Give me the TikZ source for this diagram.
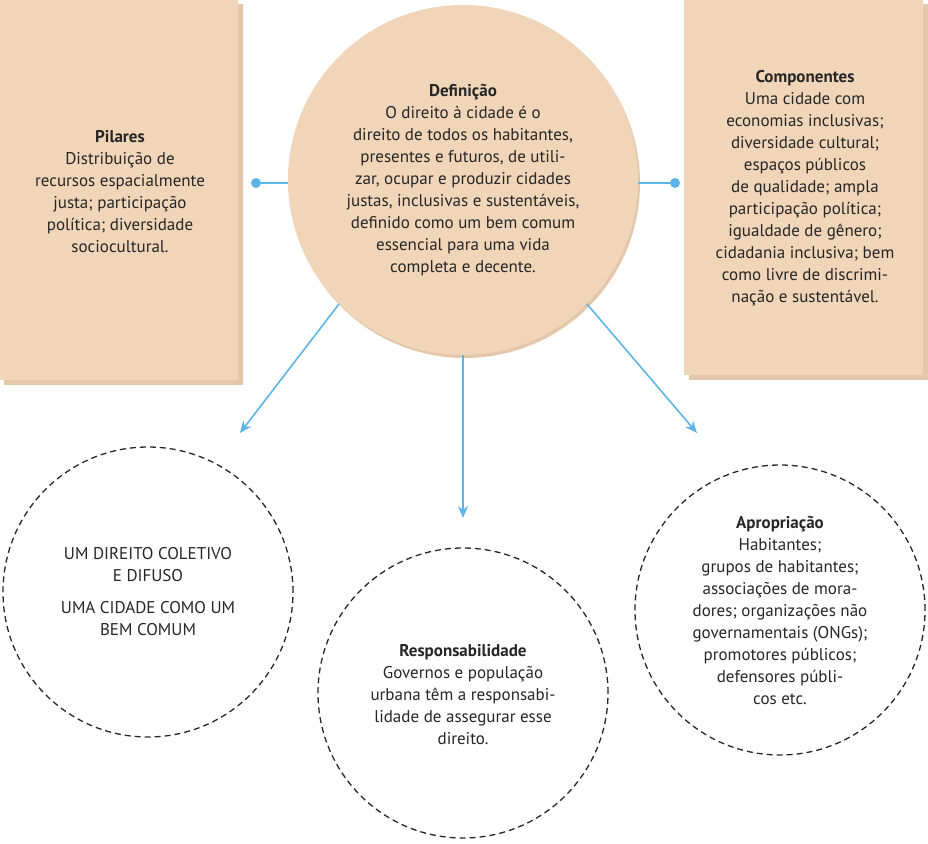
\documentclass[tikz,border=0pt]{standalone}
\usepackage{fontspec}
\usetikzlibrary{arrows.meta}
\setmainfont{PT Sans}
\begin{document}
\begin{tikzpicture}[x=1pt,y=-1pt,
  txt/.style={align=center,font=\fontsize{17}{22}\selectfont,text=black!85},
  blu/.style={draw=blue0,line width=1.6pt},
  arr/.style={blu,-{Stealth[length=12pt,width=10pt]}},
  dcirc/.style={circle,draw=black!85,dash pattern=on 6pt off 4pt,line width=1.3pt,minimum size=290pt,inner sep=0pt}]
\definecolor{tan0}{HTML}{F0D5B9}
\definecolor{tansh}{HTML}{E2C7AB}
\definecolor{blue0}{HTML}{5DB4E6}
\useasboundingbox (0,0) rectangle (928,843);
% boxes
\fill[tansh] (4,4) rectangle (243,385);
\fill[tan0] (0,0) rectangle (238,380);
\fill[tansh] (689,4) rectangle (928,380);
\fill[tan0] (684,0) rectangle (923,375);
\node[txt] (pil) at (120,192) {\textbf{Pilares}\\Distribuição de\\recursos espacialmente\\justa; participação\\política; diversidade\\sociocultural.};
\node[txt] (comp) at (805,188) {\textbf{Componentes}\\Uma cidade com\\economias inclusivas;\\diversidade cultural;\\espaços públicos\\de qualidade; ampla\\participação política;\\igualdade de gênero;\\cidadania inclusiva; bem\\como livre de discrimi-\\nação e sustentável.};
% center circle
\fill[tansh] (465,183) circle (175);
\node[circle,fill=tan0,minimum size=350pt,inner sep=0pt] (def) at (463,180) {};
\node[txt] (deft) at (463,180) {\textbf{Definição}\\O direito à cidade é o\\direito de todos os habitantes,\\presentes e futuros, de utili-\\zar, ocupar e produzir cidades\\justas, inclusivas e sustentáveis,\\definido como um bem comum\\essencial para uma vida\\completa e decente.};
% connectors
\coordinate (ld) at (256,183);
\coordinate (rd) at (675,183);
\draw[blu] (ld) -- (def.west |- ld);
\fill[blue0] (ld) circle (5);
\draw[blu] (def.east |- rd) -- (rd);
\fill[blue0] (rd) circle (5);
% dashed circles
\node[dcirc] (c1) at (148,592) {};
\node[dcirc] (c2) at (463,693) {};
\node[dcirc] (c3) at (780,610) {};
\node[txt] at (148,592) {UM DIREITO COLETIVO\\E DIFUSO\\[10pt]UMA CIDADE COMO UM\\BEM COMUM};
\node[txt] at (463,695) {\textbf{Responsabilidade}\\Governos e população\\urbana têm a responsabi-\\lidade de assegurar esse\\direito.};
\node[txt] at (780,610) {\textbf{Apropriação}\\Habitantes;\\grupos de habitantes;\\associações de mora-\\dores; organizações não\\governamentais (ONGs);\\promotores públicos;\\defensores públi-\\cos etc.};
% arrows
\draw[arr] (def.225) -- (240,433);
\draw[arr] (def.south) -- (463,518);
\draw[arr] (def.-45) -- (697,433);
\end{tikzpicture}
\end{document}
